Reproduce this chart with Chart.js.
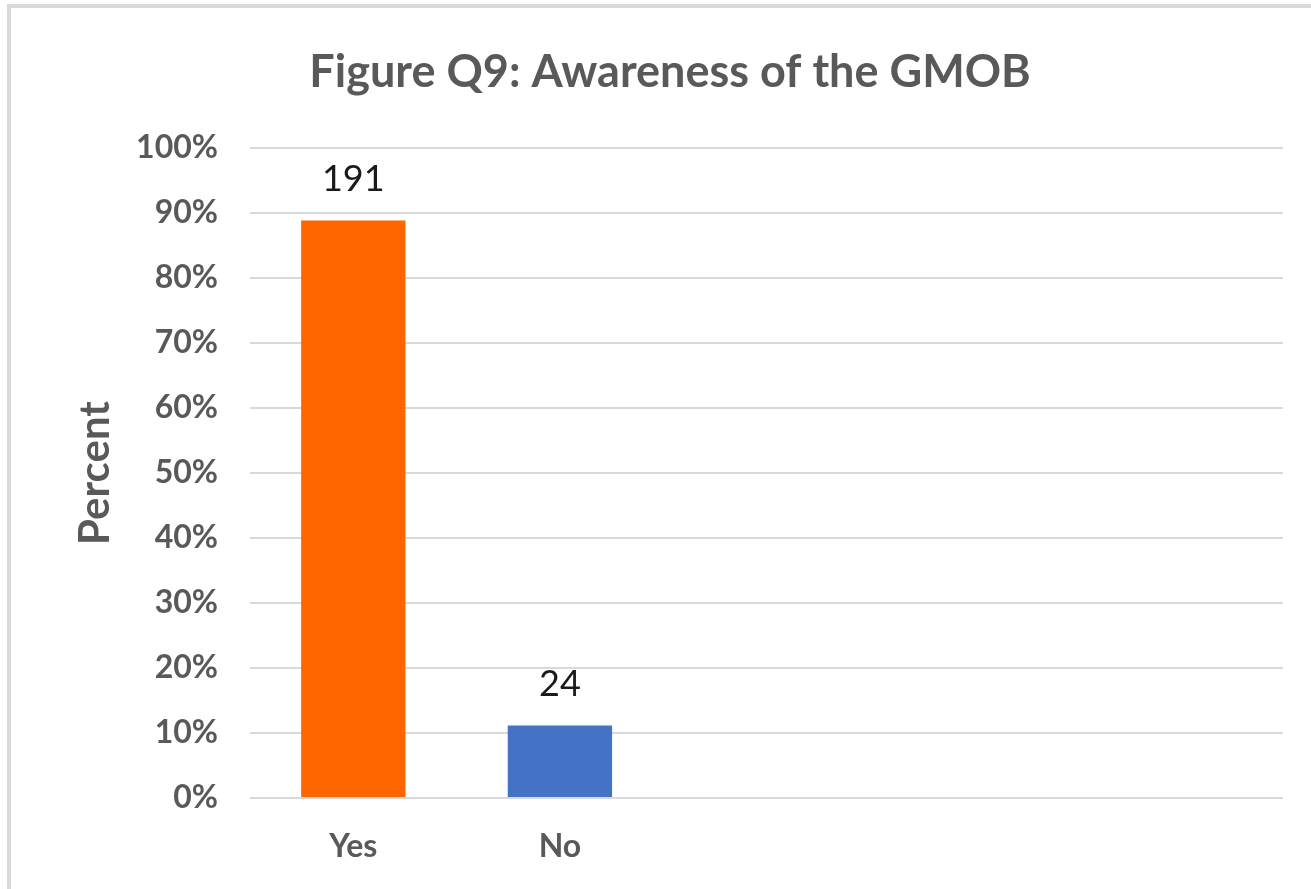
<!DOCTYPE html>
<html>
<head>
<meta charset="utf-8">
<script src="https://cdn.jsdelivr.net/npm/chart.js@4/dist/chart.umd.min.js"></script>
<style>
  html, body { margin: 0; padding: 0; background: #ffffff; }
  #wrap { width: 1311px; height: 889px; position: relative; }
</style>
</head>
<body>
<div id="wrap"><canvas id="c" width="1311" height="889"></canvas></div>
<script>
// Survey responses: "Are you aware of the GMOB?"
const categories = ['Yes', 'No', '', '', ''];
const responseCounts = [191, 24, null, null, null];
const barColors = ['#FF6600', '#4472C4', '#4472C4', '#4472C4', '#4472C4'];
const yTickLabels = ['0%', '10%', '20%', '30%', '40%', '50%', '60%', '70%', '80%', '90%', '100%'];

const totalResponses = responseCounts.reduce((s, v) => s + (v || 0), 0);
const shares = responseCounts.map(v => v == null ? null : v / totalResponses);

const FONT = 'Lato, "Open Sans", sans-serif';
const GREY = '#595959';

// Light frame along the top and left edges of the figure
const framePlugin = {
  id: 'frame',
  beforeDraw(chart) {
    const ctx = chart.ctx;
    ctx.save();
    ctx.fillStyle = '#ffffff';
    ctx.fillRect(0, 0, chart.width, chart.height);
    ctx.fillStyle = '#d9d9d9';
    ctx.fillRect(7, 4, 4, chart.height - 4);
    ctx.fillRect(7, 4, chart.width - 7, 4);
    ctx.restore();
  }
};

// Respondent counts written above each bar
const countLabels = {
  id: 'countLabels',
  afterDatasetsDraw(chart) {
    const ctx = chart.ctx;
    const meta = chart.getDatasetMeta(0);
    ctx.save();
    ctx.font = '36px ' + FONT;
    ctx.fillStyle = '#1a1a1a';
    ctx.textAlign = 'center';
    ctx.textBaseline = 'middle';
    meta.data.forEach((bar, i) => {
      const n = responseCounts[i];
      if (n == null) return;
      ctx.fillText(String(n), bar.x, bar.y - 41);
    });
    ctx.restore();
  }
};

new Chart(document.getElementById('c'), {
  type: 'bar',
  data: {
    labels: categories,
    datasets: [{
      data: shares,
      backgroundColor: barColors,
      borderWidth: 0,
      categoryPercentage: 1.0,
      barPercentage: 0.505
    }]
  },
  options: {
    responsive: false,
    animation: false,
    devicePixelRatio: 1,
    layout: { padding: { left: 57, right: 28, top: 0, bottom: 0 } },
    plugins: {
      legend: { display: false },
      tooltip: { enabled: false },
      title: {
        display: true,
        text: 'Figure Q9: Awareness of the GMOB',
        color: GREY,
        font: { family: FONT, size: 45, weight: 'bold', lineHeight: 1.2 },
        padding: { top: 45, bottom: 49 }
      }
    },
    scales: {
      x: {
        grid: { display: false, drawTicks: false },
        border: { display: false },
        ticks: {
          color: GREY,
          padding: 29,
          font: { family: FONT, size: 32, weight: 'bold', lineHeight: 1.2 }
        },
        afterFit(scale) { scale.height = 91; }
      },
      y: {
        min: 0,
        max: 1,
        grid: { color: '#d9d9d9', lineWidth: 2, drawTicks: false },
        border: { display: false },
        ticks: {
          stepSize: 0.1,
          color: GREY,
          padding: 32,
          font: { family: FONT, size: 32, weight: 'bold', lineHeight: 1.2 },
          callback: (v, i) => yTickLabels[i]
        },
        title: {
          display: true,
          text: 'Percent',
          color: GREY,
          font: { family: FONT, size: 42, weight: 'bold', lineHeight: 1.2 },
          padding: { top: 13, bottom: 0 }
        },
        afterFit(scale) { scale.width = 193; }
      }
    }
  },
  plugins: [framePlugin, countLabels]
});
</script>
</body>
</html>
